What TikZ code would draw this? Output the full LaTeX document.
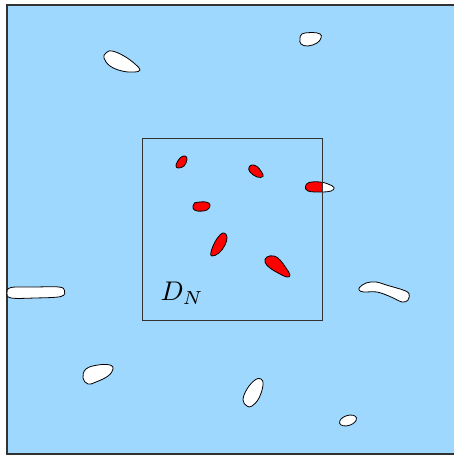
\documentclass[tikz,border=0pt]{standalone}
\definecolor{sea}{RGB}{159,216,254}
\definecolor{frame}{RGB}{50,50,50}
\tikzset{
  hole/.style={fill=white,draw=black,line width=0.8pt},
  redhole/.style={fill=red,draw=black,line width=0.8pt},
}
\begin{document}
\begin{tikzpicture}[x=1pt,y=-1pt]
\useasboundingbox (0,0) rectangle (453,457);
\fill[white] (0,0) rectangle (453,457);
\fill[sea] (7,5) rectangle (460,454);
\draw[frame,line width=1.2pt] (460,5) -- (7,5) -- (7,454) -- (460,454);
% white holes
\draw[hole] plot[smooth cycle,tension=0.7] coordinates {(106,53) (112,51) (124,56) (135,64) (140,70) (134,72) (122,71) (110,66) (104,58)};
\draw[hole] plot[smooth cycle,tension=0.7] coordinates {(302,34) (312,32.5) (320,34) (321,38) (317,43) (308,46) (301,44) (300,39)};
\draw[hole] plot[smooth cycle,tension=0.6] coordinates {(11,287.5) (35,287) (59,287) (64.5,290.5) (61,296.5) (35,298) (11,298) (7,293)};
\draw[hole] plot[smooth cycle,tension=0.6] coordinates {(359.5,287.5) (366,283) (376,282) (388,285.5) (403,290) (409,293.5) (408,300) (402,302) (390,296.5) (377,292) (364,292) (359.5,290.5)};
\draw[hole] plot[smooth cycle,tension=0.7] coordinates {(86,369) (98,365) (110,365) (113,369) (108,376) (96,382) (88,384) (83,378)};
\draw[hole] plot[smooth cycle,tension=0.7] coordinates {(255,380) (261,379) (263,385) (259,398) (252,406) (247,406) (243,400) (247,389)};
\draw[hole,rotate around={18:(348,420.5)}] (348,420.5) ellipse [x radius=8.8,y radius=5];
% red holes
\draw[redhole] plot[smooth cycle,tension=0.7] coordinates {(185,156) (187,159.5) (184,166) (178,168) (176,165) (180,158)};
\draw[redhole] plot[smooth cycle,tension=0.7] coordinates {(252,165) (257,166.5) (261.5,172) (263,176.5) (257,177) (250,172) (249,167.5)};
\draw[redhole] plot[smooth cycle,tension=0.7] coordinates {(196,202.5) (206,202) (210,205) (207,210) (197,211) (193,208) (194,204)};
\draw[redhole] plot[smooth cycle,tension=0.7] coordinates {(224,233) (227,237) (225,245) (219,253) (212,256) (211,252) (215,242) (220,235)};
\draw[redhole] plot[smooth cycle,tension=0.7] coordinates {(267,257) (274,256) (280,260) (286,268) (290,275) (287,277) (280,274) (270,268) (265,262)};
% crossing hole
\def\crossblob{plot[smooth cycle,tension=0.7] coordinates {(309,182.5) (320,182) (328,184) (334,187.5) (331,191) (320,192) (308,191) (305.5,186.5)}}
\fill[white] \crossblob;
\begin{scope}
\clip (142,139) rectangle (322,320);
\fill[red] \crossblob;
\end{scope}
\draw[line width=0.8pt] \crossblob;
% inner square
\draw[frame,line width=1pt] (142,139) rectangle (322,320);
\node[scale=2.7,inner sep=0pt] (lbl) at (182,293) {$D_N$};
\end{tikzpicture}
\end{document}
